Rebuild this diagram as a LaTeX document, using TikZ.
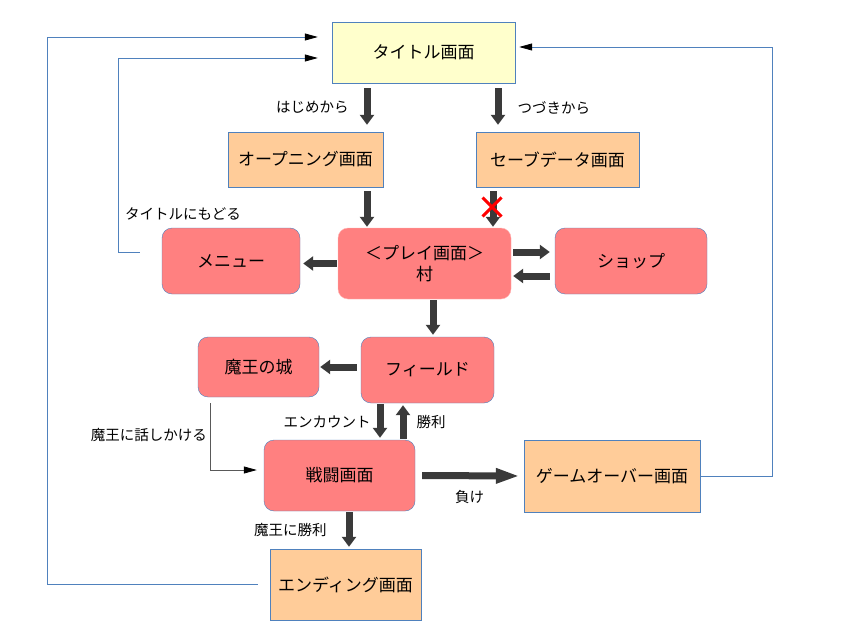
\documentclass[tikz,border=0pt]{standalone}
\usepackage{fontspec}
\setmainfont{Noto Sans CJK JP}
\usetikzlibrary{arrows.meta,shapes.misc}
\definecolor{titleyellow}{RGB}{255,255,204}
\definecolor{screenorange}{RGB}{255,204,153}
\definecolor{scenepink}{RGB}{255,128,128}
\definecolor{edgeblue}{RGB}{79,129,189}
\definecolor{flowgray}{RGB}{58,58,58}
\definecolor{wiregray}{RGB}{89,89,89}

\begin{document}
\begin{tikzpicture}[x=1pt,y=-1pt,
  screen/.style={draw=edgeblue,fill=screenorange,align=center,
    font=\fontsize{17}{21}\selectfont},
  scene/.style={screen,fill=scenepink,rounded corners=10pt},
  flow/.style={draw=flowgray,line width=7pt,
    -{Triangle[width=14pt,length=10pt]}},
  backlink/.style={draw=edgeblue,line width=0.8pt,
    -{Triangle[length=13pt,width=7pt,color=black]}},
  tag/.style={font=\fontsize{14.5}{17}\selectfont,inner sep=0pt}]
\useasboundingbox (0,0) rectangle (843,631);

% screens
\node[screen,fill=titleyellow,minimum width=183,minimum height=61] (title) at (423.5,52.5) {タイトル画面};
\node[screen,minimum width=155,minimum height=55] (opening) at (305.5,159.5) {オープニング画面};
\node[screen,minimum width=163,minimum height=55] (save) at (557.5,159.5) {セーブデータ画面};
\node[scene,minimum width=138,minimum height=66] (menu) at (231,261) {メニュー};
\node[scene,draw=scenepink!60!white,minimum width=173,minimum height=71] (play) at (424.5,263.5) {＜プレイ画面＞\\村};
\node[scene,minimum width=152,minimum height=66] (shop) at (631,261) {ショップ};
\node[scene,minimum width=121,minimum height=60] (castle) at (258.5,367) {魔王の城};
\node[scene,minimum width=133,minimum height=66] (field) at (427.5,370) {フィールド};
\node[scene,minimum width=151,minimum height=71] (battle) at (339.5,475.5) {戦闘画面};
\node[screen,minimum width=176,minimum height=72] (gameover) at (612,476) {ゲームオーバー画面};
\node[screen,minimum width=151,minimum height=71] (ending) at (345.5,584.5) {エンディング画面};

% main flow
\draw[flow,shorten <=5pt,shorten >=7pt] ([xshift=-56.5]title.south) -- ([xshift=61.5]opening.north)
  node[midway,tag,left=15pt] {はじめから};
\draw[flow,shorten <=5pt,shorten >=7pt] ([xshift=74.5]title.south) -- ([xshift=-59.5]save.north)
  node[midway,tag,right=16pt] {つづきから};
\draw[flow,shorten <=4pt,shorten >=1pt] ([xshift=61.5]opening.south) -- ([xshift=-57.5]play.north);
\draw[flow,shorten <=4pt,shorten >=1pt] ([xshift=-64.5]save.south) -- ([xshift=68.5]play.north);
\node[cross out,draw=red,line width=3pt,minimum size=16pt,inner sep=0pt] (nosave) at (492,207) {};
\draw[flow,shorten <=1pt,shorten >=3pt] (play.west) -- ([yshift=-2.5]menu.east);
\draw[flow,shorten <=2pt,shorten >=5pt] ([yshift=11.5]play.east) -- ([yshift=9]shop.west);
\draw[flow,shorten <=5pt,shorten >=2pt] ([yshift=-15]shop.west) -- ([yshift=-12.5]play.east);
\draw[flow,shorten <=1pt,shorten >=2pt] ([xshift=8.5]play.south) -- ([xshift=5.5]field.north);
\draw[flow,shorten <=4pt,shorten >=1pt] ([yshift=3]field.west) -- (castle.east);
\draw[flow,shorten <=1pt,shorten >=2pt] ([xshift=-47.5]field.south) -- ([xshift=40.5]battle.north)
  node[midway,tag,left=6pt] {エンカウント};
\draw[flow,shorten <=1pt,shorten >=2pt] ([xshift=63.5]battle.north) -- ([xshift=-24.5]field.south)
  node[midway,tag,right=10pt] {勝利};
\draw[flow,-{Triangle[width=14pt,length=24pt]},shorten <=7pt,shorten >=4pt] (battle.east) -- (gameover.west)
  node[midway,tag,below=11pt] {負け};
\draw[flow,shorten <=1pt,shorten >=2pt] ([xshift=9.5]battle.south) -- ([xshift=3.5]ending.north)
  node[midway,tag,left=19pt] {魔王に勝利};

% ways back
\draw[backlink,shorten <=12pt,shorten >=14pt] (ending.west) -- ++(-222,0) |- ([yshift=15.5]title.west);
\draw[backlink,shorten <=22pt,shorten >=14pt] ([yshift=9]menu.west) -- ++(-43,0) |- ([yshift=-5.5]title.west);
\node[tag,anchor=west] (backtitle) at (125,214) {タイトルにもどる};
\draw[backlink,shorten >=4pt] (gameover.east) -- ++(72,0) |- ([yshift=5.5]title.east);
\draw[backlink,draw=wiregray,shorten <=6pt,shorten >=7pt] ([xshift=-48.5]castle.south) |- ([yshift=5.5]battle.west);
\node[tag,anchor=east] (talkboss) at (207,435) {魔王に話しかける};
\end{tikzpicture}
\end{document}
